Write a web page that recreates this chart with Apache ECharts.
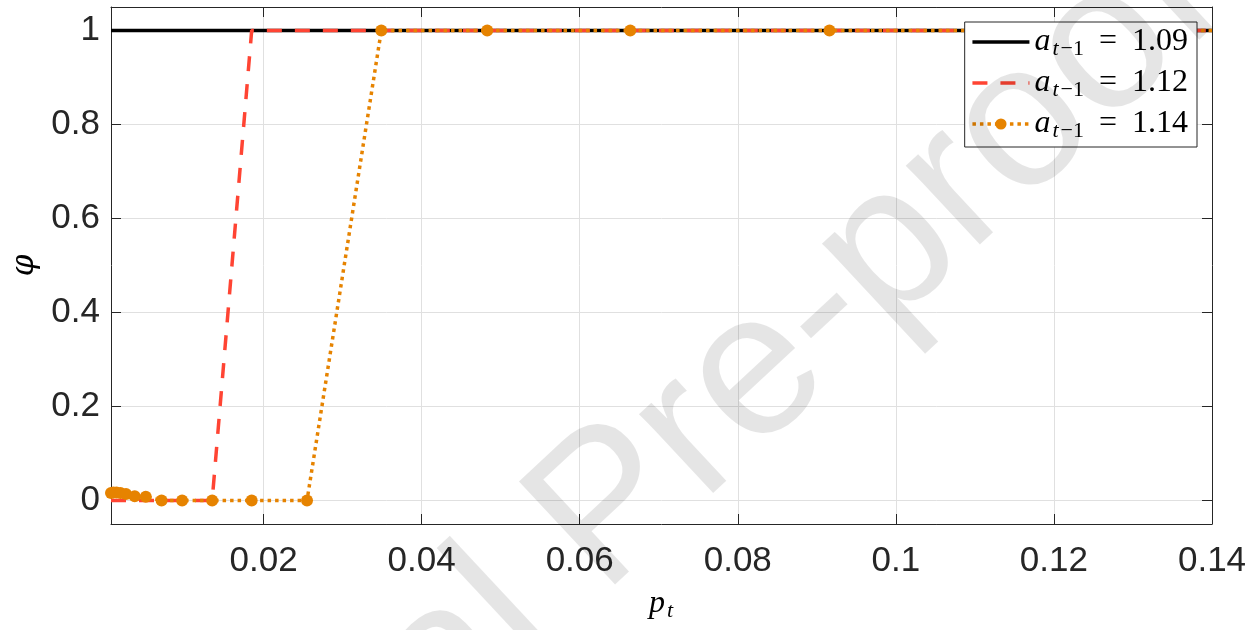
<!DOCTYPE html>
<html>
<head>
<meta charset="utf-8">
<script src="https://cdn.jsdelivr.net/npm/echarts@6/dist/echarts.min.js"></script>
<style>
  html, body { margin: 0; padding: 0; background: #fff; }
  #chart { width: 1260px; height: 630px; }
</style>
</head>
<body>
<div id="chart"></div>
<script>
// ---- data ----
const pValues = [0.0007, 0.0010, 0.0014, 0.0019, 0.0026, 0.0037, 0.0051, 0.0071, 0.0097,
                 0.0135, 0.0185, 0.0255, 0.0349, 0.0483, 0.0664, 0.0916, 0.1262, 0.14];
const phi109 = [1, 1, 1, 1, 1, 1, 1, 1, 1, 1, 1, 1, 1, 1, 1, 1, 1, 1];
const phi112 = [0, 0, 0, 0, 0, 0, 0, 0, 0, 0, 1, 1, 1, 1, 1, 1, 1, 1];
const phi114 = [0.016, 0.017, 0.017, 0.016, 0.014, 0.009, 0.008, 0, 0, 0, 0, 0, 1, 1, 1, 1, 1, 1];
const legendValues = ['1.09', '1.12', '1.14'];
const xTicks = [0.02, 0.04, 0.06, 0.08, 0.1, 0.12, 0.14];
const xTickLabels = ['0.02', '0.04', '0.06', '0.08', '0.1', '0.12', '0.14'];
const yTicks = [0, 0.2, 0.4, 0.6, 0.8, 1];
const yTickLabels = ['0', '0.2', '0.4', '0.6', '0.8', '1'];
const watermarkText = 'Journal Pre-proof';

const X_MIN = 0.0007, X_MAX = 0.14, Y_MIN = -0.05, Y_MAX = 1.05;
const AX = '#262626';
const GRIDC = '#e0e0e0';

function pairs(ys, lastNoSymbol) {
  return pValues.map((p, i) => {
    if (lastNoSymbol && i === pValues.length - 1) return { value: [p, ys[i]], symbol: 'none' };
    return [p, ys[i]];
  });
}
function fmtX(v) { const i = xTicks.findIndex(t => Math.abs(t - v) < 1e-9); return i >= 0 ? xTickLabels[i] : ''; }
function fmtY(v) { const i = yTicks.findIndex(t => Math.abs(t - v) < 1e-9); return i >= 0 ? yTickLabels[i] : ''; }

const tickFont = { fontFamily: 'Liberation Sans', fontSize: 35, color: AX };
const mathRich = {
  i: { fontFamily: 'Liberation Serif', fontStyle: 'italic', fontSize: 32, lineHeight: 32, verticalAlign: 'top', padding: [0, 1, 0, 0], color: '#000' },
  s: { fontFamily: 'Liberation Serif', fontStyle: 'italic', fontSize: 22, lineHeight: 22, verticalAlign: 'top', padding: [12, 1, 0, 1], color: '#000' },
  sn: { fontFamily: 'Liberation Serif', fontSize: 22, lineHeight: 22, verticalAlign: 'top', padding: [12, 0, 0, 1], color: '#000' },
  eq: { fontFamily: 'Liberation Serif', fontSize: 32, lineHeight: 32, verticalAlign: 'top', padding: [0, 15, 0, 15], color: '#000' },
  n: { fontFamily: 'Liberation Serif', fontSize: 32, lineHeight: 32, verticalAlign: 'top', color: '#000' }
};

const names = legendValues.map(v => 'a_{t-1} = ' + v);

const chart = echarts.init(document.getElementById('chart'), null, { renderer: 'canvas' });
chart.setOption({
  animation: false,
  backgroundColor: '#ffffff',
  grid: { left: 111, right: 48, top: 7, bottom: 106, containLabel: false },
  xAxis: [{
    type: 'value', min: X_MIN, max: X_MAX, position: 'bottom',
    axisLine: { show: true, onZero: false, lineStyle: { color: AX, width: 1 } },
    axisTick: { show: true, inside: true, length: 10, customValues: xTicks, lineStyle: { color: AX } },
    axisLabel: Object.assign({ customValues: xTicks, formatter: fmtX, margin: 20 }, tickFont),
    splitLine: { show: true, lineStyle: { color: GRIDC, width: 1 } },
    name: '{i|p}{s|t}', nameLocation: 'middle', nameGap: 64,
    nameTextStyle: { rich: mathRich }
  }, {
    type: 'value', min: X_MIN, max: X_MAX, position: 'top',
    axisLine: { show: true, onZero: false, lineStyle: { color: AX, width: 1 } },
    axisTick: { show: true, inside: true, length: 10, customValues: xTicks, lineStyle: { color: AX } },
    axisLabel: { show: false }, splitLine: { show: false }
  }],
  yAxis: [{
    type: 'value', min: Y_MIN, max: Y_MAX, position: 'left',
    axisLine: { show: true, onZero: false, lineStyle: { color: AX, width: 1 } },
    axisTick: { show: true, inside: true, length: 10, customValues: yTicks, lineStyle: { color: AX } },
    axisLabel: Object.assign({ customValues: yTicks, formatter: fmtY, margin: 11 }, tickFont),
    splitLine: { show: true, lineStyle: { color: GRIDC, width: 1 } },
    name: 'φ', nameLocation: 'middle', nameGap: 62,
    nameTextStyle: { fontFamily: 'DejaVu Serif', fontStyle: 'italic', fontSize: 31, color: '#000' }
  }, {
    type: 'value', min: Y_MIN, max: Y_MAX, position: 'right',
    axisLine: { show: true, onZero: false, lineStyle: { color: AX, width: 1 } },
    axisTick: { show: true, inside: true, length: 10, customValues: yTicks, lineStyle: { color: AX } },
    axisLabel: { show: false }, splitLine: { show: false }
  }],
  legend: {
    orient: 'vertical', right: 63, top: 22, z: 10,
    backgroundColor: '#ffffff', borderColor: AX, borderWidth: 1, borderRadius: 0,
    padding: [4, 9, 5, 6], itemGap: 7, itemWidth: 57, itemHeight: 14,
    lineStyle: { width: 3.5 },
    data: [
      { name: names[0], itemStyle: { opacity: 0 } },
      { name: names[1], itemStyle: { opacity: 0 } },
      { name: names[2] }
    ],
    formatter: function (name) {
      const v = name.split('= ')[1];
      return '{i|a}{s|t}{sn|\u22121}{eq|=}{n|' + v + '}';
    },
    textStyle: { rich: mathRich }
  },
  series: [{
    name: names[0], type: 'line', data: pairs(phi109, false), symbol: 'none',
    lineStyle: { color: '#000000', width: 3.5 }, itemStyle: { color: '#000000' }, z: 2
  }, {
    name: names[1], type: 'line', data: pairs(phi112, false), symbol: 'none',
    lineStyle: { color: '#FF4433', width: 3.5, type: [15, 13] }, itemStyle: { color: '#FF4433' }, z: 3
  }, {
    name: names[2], type: 'line', data: pairs(phi114, true), symbol: 'circle', symbolSize: 12,
    showAllSymbol: true,
    lineStyle: { color: '#E68300', width: 3.5, type: [3.5, 4] }, itemStyle: { color: '#E68300' }, z: 4
  }],
  graphic: [{
    type: 'text', x: 610, y: 512, rotation: 43 * Math.PI / 180, z: 100, silent: true,
    style: { text: watermarkText, fontFamily: 'Liberation Sans', fontSize: 205,
             fill: 'rgba(0,0,0,0.1)', align: 'center', verticalAlign: 'middle' }
  }]
});
</script>
</body>
</html>
